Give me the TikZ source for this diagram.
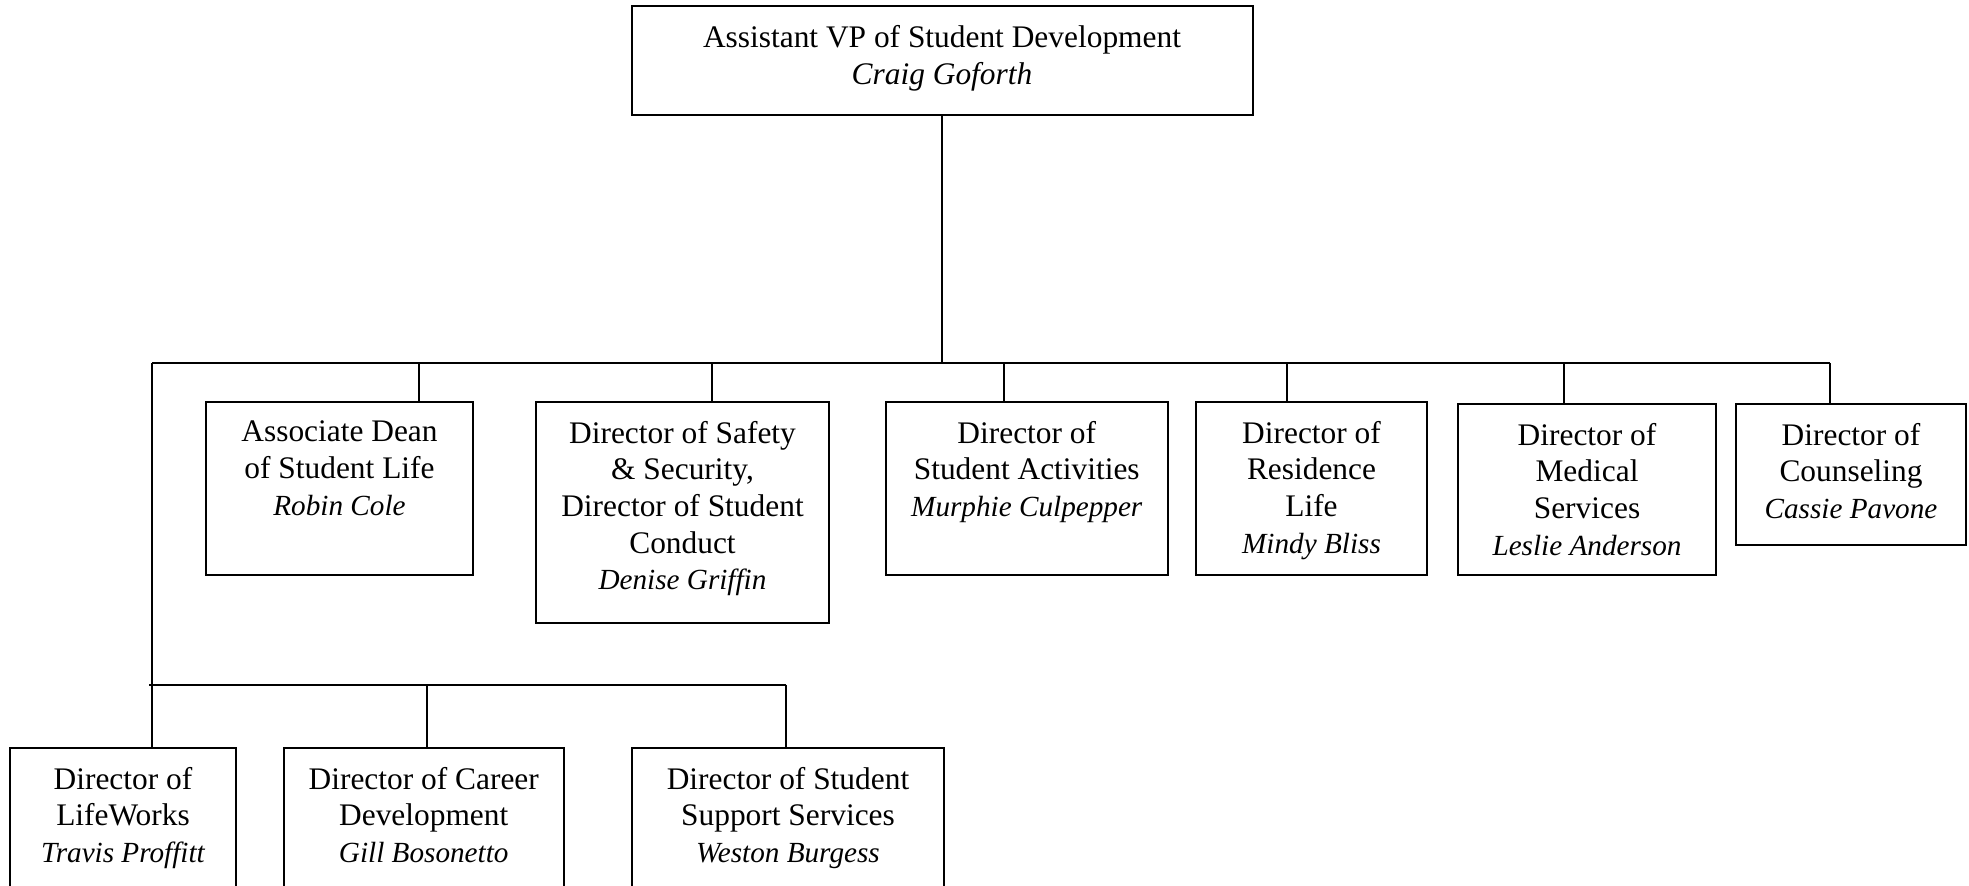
\documentclass[tikz,border=0pt]{standalone}
\usepackage{fontspec}
\setmainfont{Liberation Serif}
\newcommand{\pname}[1]{{\fontsize{14.6}{18.35}\selectfont\itshape #1}}
\begin{document}
\begin{tikzpicture}[x=0.5pt,y=-0.5pt,
  box/.style={draw,line width=1pt,inner sep=0pt,outer sep=0pt,anchor=north west},
  txt/.style={anchor=north,inner sep=0pt,align=center,font=\fontsize{15.7}{18.35}\selectfont},
  conn/.style={line width=1pt}]
\clip (0,0) rectangle (1969,886);

% top
\node[box,minimum width=310.5pt,minimum height=54.25pt] (vp) at (631.5,6.5) {};
\node[txt] (vpT) at (942,25) {Assistant VP of Student Development\\\textit{Craig Goforth}};

% row 1
\node[box,minimum width=133.5pt,minimum height=86.5pt] (assoc) at (206,402) {};
\node[txt] (assocT) at (339.5,420.5) {Associate Dean\\of Student Life\\\pname{Robin Cole}};
\node[box,minimum width=146.5pt,minimum height=110.5pt] (safety) at (536,402) {};
\node[txt] (safetyT) at (682.5,420.5) {Director of Safety\\\& Security,\\Director of Student\\Conduct\\\pname{Denise Griffin}};
\node[box,minimum width=141.25pt,minimum height=86.5pt] (activ) at (885.5,402) {};
\node[txt] (activT) at (1026.75,420.5) {Director of\\Student Activities\\\pname{Murphie Culpepper}};
\node[box,minimum width=115.5pt,minimum height=86.5pt] (resid) at (1196,402) {};
\node[txt] (residT) at (1311.5,420.5) {Director of\\Residence\\Life\\\pname{Mindy Bliss}};
\node[box,minimum width=129pt,minimum height=85.5pt] (medic) at (1458,404) {};
\node[txt] (medicT) at (1587,422.5) {Director of\\Medical\\Services\\\pname{Leslie Anderson}};
\node[box,minimum width=115pt,minimum height=70.5pt] (couns) at (1736,404) {};
\node[txt] (counsT) at (1851,422.5) {Director of\\Counseling\\\pname{Cassie Pavone}};

% row 2
\node[box,minimum width=113pt,minimum height=80pt] (life) at (10,748) {};
\node[txt] (lifeT) at (123,766.5) {Director of\\LifeWorks\\\pname{Travis Proffitt}};
\node[box,minimum width=140.25pt,minimum height=80pt] (career) at (283.5,748) {};
\node[txt] (careerT) at (423.75,766.5) {Director of Career\\Development\\\pname{Gill Bosonetto}};
\node[box,minimum width=156pt,minimum height=80pt] (support) at (632,748) {};
\node[txt] (supportT) at (788,766.5) {Director of Student\\Support Services\\\pname{Weston Burgess}};

% connectors
\coordinate (bus) at (942,363);
\coordinate (busL) at (152,363);
\coordinate (busR) at (1830,363);
\coordinate (d1) at (419,363);
\coordinate (d2) at (712,363);
\coordinate (d3) at (1003.5,363);
\coordinate (d4) at (1287,363);
\coordinate (d5) at (1564,363);
\coordinate (b2L) at (149,684.5);
\coordinate (e2) at (427,684.5);
\coordinate (b2R) at (786,684.5);

\draw[conn] (vp.south) -- (bus);
\draw[conn] (busL) -- (busR);
\draw[conn] (d1) -- (d1 |- assoc.north);
\draw[conn] (d2) -- (d2 |- safety.north);
\draw[conn] (d3) -- (d3 |- activ.north);
\draw[conn] (d4) -- (d4 |- resid.north);
\draw[conn] (d5) -- (d5 |- medic.north);
\draw[conn] (busR) -- (busR |- couns.north);
\draw[conn] (busL) -- (busL |- life.north);
\draw[conn] (b2L) -- (b2R);
\draw[conn] (e2) -- (e2 |- career.north);
\draw[conn] (b2R) -- (b2R |- support.north);
\end{tikzpicture}
\end{document}
